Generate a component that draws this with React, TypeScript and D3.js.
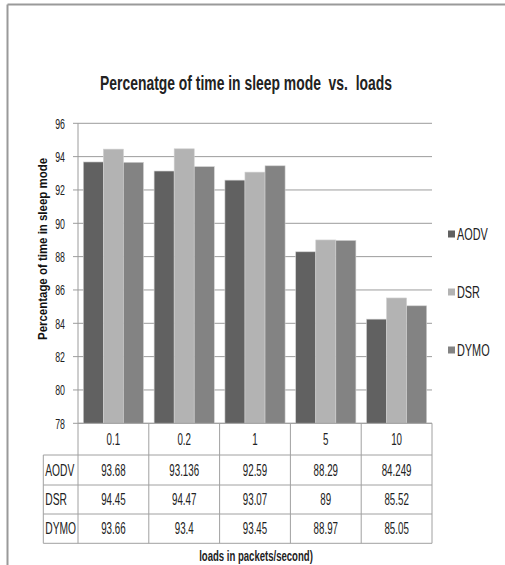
import React from "react";
import { scaleBand, scaleLinear } from "d3";

const categories = ["0.1", "0.2", "1", "5", "10"];
const seriesNames = ["AODV", "DSR", "DYMO"];
const aodv = [93.68, 93.136, 92.59, 88.29, 84.249];
const dsr = [94.45, 94.47, 93.07, 89, 85.52];
const dymo = [93.66, 93.4, 93.45, 88.97, 85.05];
const aodvLabels = ["93.68", "93.136", "92.59", "88.29", "84.249"];
const dsrLabels = ["94.45", "94.47", "93.07", "89", "85.52"];
const dymoLabels = ["93.66", "93.4", "93.45", "88.97", "85.05"];
const yTicks = [78, 80, 82, 84, 86, 88, 90, 92, 94, 96];

const colors = ["#616161", "#b3b3b3", "#838383"];
const font = "'Liberation Sans', Arial, sans-serif";

// squeezed text, the source chart uses a narrow face
function SText({
  x,
  y,
  sx = 0.61,
  size = 16,
  anchor = "start",
  weight = "normal",
  children,
}: {
  x: number;
  y: number;
  sx?: number;
  size?: number;
  anchor?: "start" | "middle" | "end";
  weight?: string;
  children: React.ReactNode;
}) {
  return (
    <text
      transform={`translate(${x},${y}) scale(${sx},1)`}
      dy="0.35em"
      textAnchor={anchor}
      fontFamily={font}
      fontSize={size}
      fontWeight={weight}
      fill="#222"
      style={{ whiteSpace: "pre" }}
    >
      {children}
    </text>
  );
}

export default function App() {
  const W = 505;
  const H = 565;
  const left = 78;
  const right = 432;
  const top = 123.3;
  const bottom = 423.3;

  const x = scaleBand<string>().domain(categories).range([left, right]).paddingInner(0).paddingOuter(0);
  const inner = scaleBand<string>()
    .domain(seriesNames)
    .range([0, x.bandwidth()])
    .paddingInner(0)
    .paddingOuter(0.265);
  const y = scaleLinear().domain([78, 96]).range([bottom, top]);

  const series = [aodv, dsr, dymo];
  const labels = [aodvLabels, dsrLabels, dymoLabels];

  const rowY = [bottom, 455, 485, 514, 543.3];
  const tableLeft = 43.3;

  return (
    <svg
      width={W}
      height={H}
      style={{ position: "absolute", left: 0, top: 0, background: "#fff" }}
    >
      {/* frame */}
      <line x1={7.5} y1={4.5} x2={W} y2={4.5} stroke="#9a9a9a" strokeWidth={2} />
      <line x1={7.5} y1={4.5} x2={7.5} y2={H} stroke="#9a9a9a" strokeWidth={2} />

      <SText x={246} y={83} anchor="middle" size={21} sx={0.662} weight="bold">
        {"Percenatge of time in sleep mode  vs.  loads"}
      </SText>

      {/* gridlines */}
      {yTicks.map((t) => (
        <g key={t}>
          <line x1={73} x2={right} y1={y(t)} y2={y(t)} stroke="#9c9c9c" strokeWidth={1} />
          <SText x={65} y={y(t)} anchor="end" size={15.5} sx={0.57}>
            {t}
          </SText>
        </g>
      ))}
      <line x1={left} x2={left} y1={top} y2={bottom} stroke="#9c9c9c" />

      {/* bars */}
      {categories.map((c, i) => (
        <g key={c} transform={`translate(${x(c)},0)`}>
          {seriesNames.map((s, j) => (
            <rect
              key={s}
              x={inner(s)}
              y={y(series[j][i])}
              width={inner.bandwidth()}
              height={bottom - y(series[j][i])}
              fill={colors[j]}
              stroke="#d0d0d0"
              strokeWidth={0.6}
            />
          ))}
        </g>
      ))}

      <text
        transform={`translate(47,249) rotate(-90)`}
        textAnchor="middle"
        fontFamily={font}
        fontSize={12.5}
        fontWeight="bold"
        fill="#111"
        textLength={182}
        lengthAdjust="spacingAndGlyphs"
      >
        Percentage of time in sleep mode
      </text>

      {/* data table */}
      <g stroke="#a0a0a0" strokeWidth={1}>
        <line x1={left} x2={right} y1={rowY[0]} y2={rowY[0]} />
        {rowY.slice(1).map((ry) => (
          <line key={ry} x1={tableLeft} x2={right} y1={ry} y2={ry} />
        ))}
        <line x1={tableLeft} x2={tableLeft} y1={rowY[1]} y2={rowY[4]} />
        {categories.map((c) => (
          <line key={c} x1={x(c)} x2={x(c)} y1={rowY[0]} y2={rowY[4]} />
        ))}
        <line x1={right} x2={right} y1={rowY[0]} y2={rowY[4]} />
      </g>
      {categories.map((c) => (
        <SText
          key={c}
          x={(x(c) ?? 0) + x.bandwidth() / 2}
          y={(rowY[0] + rowY[1]) / 2}
          anchor="middle"
        >
          {c}
        </SText>
      ))}
      {seriesNames.map((s, j) => (
        <g key={s}>
          <SText x={tableLeft + 2} y={(rowY[j + 1] + rowY[j + 2]) / 2} sx={0.64}>
            {s}
          </SText>
          {categories.map((c, i) => (
            <SText
              key={c}
              x={(x(c) ?? 0) + x.bandwidth() / 2}
              y={(rowY[j + 1] + rowY[j + 2]) / 2}
              anchor="middle"
            >
              {labels[j][i]}
            </SText>
          ))}
        </g>
      ))}

      <SText x={256} y={556} anchor="middle" size={14.5} sx={0.66} weight="bold">
        loads in packets/second)
      </SText>

      {/* legend */}
      {seriesNames.map((s, j) => {
        const ly = 234 + j * 58;
        return (
          <g key={s}>
            <rect x={448} y={ly - 3.5} width={7} height={7} fill={colors[j]} />
            <SText x={457} y={ly} sx={0.68}>
              {s}
            </SText>
          </g>
        );
      })}
    </svg>
  );
}
